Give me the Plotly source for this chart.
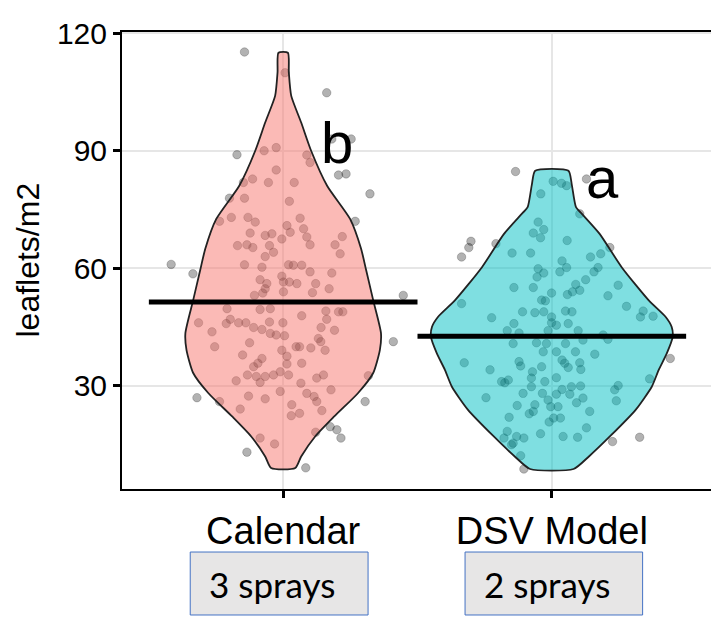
import plotly.graph_objects as go

# ---------------- data ----------------
categories = ["Calendar", "DSV Model"]
cat_pos = [1, 2]
means = [51.4, 42.7]
letters = ["b", "a"]
spray_labels = ["3 sprays", "2 sprays"]
y_ticks = [30, 60, 90, 120]

# jittered observations (horizontal jitter offset, value)
cal_jitter = [-0.144, 0.007, 0.162, -0.071, -0.026, -0.172, 0.088, 0.1, 0.181, 0.253,
              0.206, 0.234, 0.323, -0.026, -0.114, -0.148, -0.055, 0.041, -0.2, -0.144,
              0.023, -0.237, -0.193, -0.131, -0.104, 0.063, 0.268, -0.123, -0.067, -0.042,
              0.014, 0.026, 0.076, 0.088, 0.1, -0.005, 0.22, 0.193, -0.17, -0.135,
              -0.113, -0.051, -0.417, -0.336, -0.067, -0.036, 0.212, -0.144, -0.079, 0.02,
              0.038, 0.069, 0.1, 0.181, -0.086, -0.061, -0.005, 0.001, 0.023, 0.051,
              0.121, 0.171, -0.067, -0.107, -0.076, 0.001, 0.109, 0.447, -0.209, -0.086,
              -0.048, 0.069, 0.159, 0.206, 0.222, -0.315, -0.197, -0.212, -0.166, -0.139,
              -0.11, -0.079, -0.051, -0.001, -0.048, -0.026, 0.005, 0.162, 0.141, 0.191,
              -0.265, -0.255, -0.125, 0.41, -0.005, 0.048, 0.061, 0.103, 0.131, 0.14,
              0.156, -0.151, -0.079, -0.094, -0.11, 0.014, 0.014, 0.069, -0.133, -0.1,
              -0.086, -0.067, -0.036, -0.011, 0.02, -0.175, 0.125, 0.15, 0.317, 0.066,
              -0.011, 0.088, 0.115, 0.125, 0.178, -0.321, -0.237, -0.129, -0.067, 0.305,
              -0.16, 0.032, 0.03, 0.061, 0.144, 0.175, 0.2, 0.215, 0.121, -0.086,
              -0.032, -0.135, 0.084]
cal_values = [115.2, 109.9, 104.8, 90.0, 90.8, 89.0, 88.9, 87.0, 93.0, 93.0,
              83.8, 84.1, 79.0, 85.1, 82.8, 81.9, 81.9, 81.9, 77.9, 77.9,
              77.1, 72.0, 73.0, 73.0, 71.8, 72.8, 72.0, 69.0, 68.4, 68.8,
              70.9, 69.2, 70.1, 68.0, 66.0, 67.5, 68.1, 66.0, 65.8, 66.0,
              65.3, 65.8, 61.0, 58.6, 63.0, 64.1, 63.7, 60.9, 60.3, 60.9,
              60.8, 60.8, 59.1, 58.8, 57.1, 56.1, 58.0, 56.5, 56.5, 56.1,
              56.1, 54.8, 54.8, 53.1, 53.7, 54.0, 53.8, 53.1, 49.7, 49.5,
              49.7, 47.9, 49.1, 48.9, 48.9, 46.1, 47.0, 45.9, 46.1, 46.1,
              44.9, 44.4, 46.3, 46.1, 43.4, 43.0, 42.8, 47.0, 44.9, 44.2,
              43.8, 40.0, 41.0, 41.3, 39.1, 40.0, 40.0, 39.7, 42.1, 41.3,
              39.1, 37.9, 37.0, 35.8, 34.9, 37.6, 35.6, 35.8, 32.8, 32.4,
              30.9, 32.4, 32.8, 33.6, 32.8, 31.3, 32.0, 32.8, 32.6, 30.7,
              28.6, 28.1, 27.3, 26.0, 29.0, 27.0, 26.0, 27.4, 26.7, 26.0,
              24.1, 25.2, 22.4, 23.0, 23.7, 19.6, 18.8, 16.7, 18.2, 16.7,
              15.2, 13.1, 9.1]

dsv_jitter = [-0.135, 0.005, 0.036, 0.055, 0.129, -0.041, 0.104, -0.051, -0.03, -0.069,
              -0.042, -0.301, -0.309, -0.336, -0.208, 0.057, 0.216, -0.148, -0.079, 0.144,
              0.182, 0.038, -0.051, 0.055, -0.03, -0.055, 0.03, 0.157, 0.172, 0.126,
              0.247, 0.089, 0.104, 0.077, 0.058, -0.001, -0.141, -0.069, 0.209, -0.038,
              -0.024, -0.336, 0.278, 0.34, 0.377, 0.33, -0.109, -0.063, -0.03, 0.051,
              0.075, -0.001, -0.224, -0.141, -0.001, 0.017, 0.061, -0.166, -0.122, -0.014,
              0.098, 0.191, 0.209, -0.144, -0.057, -0.02, 0.051, 0.116, -0.032, 0.017,
              0.088, 0.16, -0.326, -0.122, -0.116, 0.038, 0.048, 0.104, -0.038, 0.061,
              0.108, 0.441, -0.23, -0.072, -0.076, 0.017, -0.026, -0.187, -0.162, -0.175,
              0.364, -0.076, 0.038, 0.073, 0.107, 0.247, 0.234, -0.107, -0.035, 0.017,
              0.067, -0.245, -0.014, 0.116, 0.092, 0.24, -0.129, -0.063, -0.004, 0.023,
              0.141, -0.084, -0.069, -0.159, 0.007, 0.032, -0.01, 0.129, -0.042, 0.042,
              0.096, -0.166, -0.178, -0.131, -0.104, -0.144, -0.15, 0.327, 0.226, -0.116,
              -0.104]
dsv_values = [84.7, 82.2, 81.7, 81.1, 82.8, 79.0, 73.9, 71.8, 69.9, 69.0,
              67.8, 66.9, 65.3, 62.9, 66.3, 67.1, 65.3, 63.9, 63.9, 62.9,
              63.7, 61.9, 59.9, 60.2, 58.8, 57.8, 59.1, 59.1, 60.2, 57.1,
              55.7, 55.9, 54.4, 54.0, 53.3, 53.7, 55.1, 55.1, 53.0, 51.9,
              51.7, 51.0, 50.3, 49.1, 47.8, 47.6, 48.9, 48.7, 48.9, 49.1,
              48.9, 47.6, 47.4, 45.9, 46.1, 45.5, 45.9, 44.1, 43.5, 44.1,
              44.1, 43.0, 41.9, 40.8, 41.0, 40.8, 40.8, 41.7, 38.7, 38.7,
              38.7, 38.1, 35.9, 36.2, 35.1, 36.6, 35.8, 35.9, 34.9, 34.7,
              34.2, 37.0, 34.1, 33.6, 32.0, 32.1, 31.1, 31.1, 31.5, 30.8,
              31.8, 29.8, 29.1, 29.8, 30.0, 30.1, 29.0, 28.1, 28.1, 27.9,
              27.9, 27.0, 26.4, 26.9, 25.7, 26.2, 25.0, 25.2, 24.7, 24.7,
              23.5, 22.9, 23.5, 22.0, 21.8, 21.8, 20.8, 19.3, 17.8, 17.1,
              16.9, 18.4, 16.7, 17.1, 16.7, 15.4, 15.0, 16.9, 15.8, 12.2,
              8.8]

# violin outlines (value, half width in category units)
cal_outline_y = [9.06, 12.0, 17.1, 22.2, 28.2, 33.3, 39.2, 43.5, 51.9, 59.5,
                 65.0, 72.6, 81.0, 90.0, 97.2, 104.0, 110.0, 115.0]
cal_outline_w = [0.045, 0.067, 0.119, 0.19, 0.279, 0.335, 0.36, 0.364, 0.335, 0.309,
                 0.29, 0.249, 0.164, 0.104, 0.067, 0.03, 0.021, 0.0175]
dsv_outline_y = [8.8, 12.0, 17.1, 23.9, 29.8, 34.1, 38.3, 42.5, 45.1, 47.6,
                 51.9, 60.3, 68.8, 73.9, 75.6, 81.5, 84.9]
dsv_outline_w = [0.081, 0.138, 0.216, 0.312, 0.372, 0.398, 0.428, 0.45, 0.446, 0.424,
                 0.36, 0.26, 0.178, 0.112, 0.09, 0.074, 0.062]

# ---------------- styling ----------------
fills = ["rgba(248,118,109,0.5)", "rgba(0,191,196,0.5)"]
FONT = "Liberation Sans, Arial, sans-serif"

fig = go.Figure()

# points first (violins drawn over them, as in the reference)
for pos, jit, vals in [(cat_pos[0], cal_jitter, cal_values), (cat_pos[1], dsv_jitter, dsv_values)]:
    fig.add_trace(go.Scatter(
        x=[pos + j for j in jit], y=vals, mode="markers",
        marker=dict(size=8.5, color="rgba(0,0,0,0.3)",
                    line=dict(width=1, color="rgba(0,0,0,0.2)")),
        hoverinfo="skip", showlegend=False))

# violin bodies
for pos, oy, ow, fc in [(cat_pos[0], cal_outline_y, cal_outline_w, fills[0]),
                        (cat_pos[1], dsv_outline_y, dsv_outline_w, fills[1])]:
    xs = [pos + w for w in ow] + [pos - w for w in reversed(ow)] + [pos + ow[0]]
    ys = list(oy) + list(reversed(oy)) + [oy[0]]
    fig.add_trace(go.Scatter(
        x=xs, y=ys, mode="lines", fill="toself", fillcolor=fc,
        line=dict(color="#222222", width=1.8, shape="spline", smoothing=0.6),
        hoverinfo="skip", showlegend=False))

# mean bars
for pos, m in zip(cat_pos, means):
    fig.add_trace(go.Scatter(
        x=[pos - 0.5, pos + 0.5], y=[m, m], mode="lines",
        line=dict(color="black", width=5), hoverinfo="skip", showlegend=False))

annotations = []
# significance letters
annotations.append(dict(x=1.2, y=92.1, xref="x", yref="y", text=letters[0], showarrow=False,
                        font=dict(family=FONT, size=58, color="black"),
                        xanchor="center", yanchor="middle"))
annotations.append(dict(x=2.19, y=83.2, xref="x", yref="y", text=letters[1], showarrow=False,
                        font=dict(family=FONT, size=58, color="black"),
                        xanchor="center", yanchor="middle"))
# y title
annotations.append(dict(x=-0.1607, y=0.5, xref="paper", yref="paper", text="leaflets/m2",
                        textangle=-90, showarrow=False,
                        font=dict(family=FONT, size=32, color="black"),
                        xanchor="center", yanchor="middle"))

shapes = []
box_x = [(0.654, 1.316), (1.677, 2.338)]
text_x = [0.7175, 1.74]
for (x0, x1), tx, lab in zip(box_x, text_x, spray_labels):
    shapes.append(dict(type="rect", xref="x", yref="paper", x0=x0, x1=x1,
                       y0=-0.2757, y1=-0.1379, fillcolor="#E7E6E6",
                       line=dict(color="#4472C4", width=1), layer="above"))
    annotations.append(dict(x=tx, y=-0.2068, xref="x", yref="paper", text=lab,
                            showarrow=False, font=dict(family="Lato, Carlito, sans-serif",
                                                       size=35, color="black"),
                            xanchor="left", yanchor="middle"))

axis_common = dict(showline=True, linecolor="black", linewidth=2, mirror=True,
                   ticks="outside", ticklen=7, tickwidth=3, tickcolor="black",
                   showgrid=True, gridcolor="#e6e6e6", gridwidth=1.5, zeroline=False,
                   automargin=False)

# page body has an 8px default margin, so the figure is sized/offset to compensate
fig.update_layout(
    width=711, height=613,
    margin=dict(l=114, r=6, t=24, b=132),
    plot_bgcolor="white", paper_bgcolor="white",
    font=dict(family=FONT, color="black"),
    xaxis=dict(range=[0.4, 2.6], tickvals=cat_pos, ticktext=categories,
               tickfont=dict(size=38, color="black"), ticklabelstandoff=0, **axis_common),
    yaxis=dict(range=[3.7, 120.3], tickvals=y_ticks,
               tickfont=dict(size=30, color="black"), **axis_common),
    shapes=shapes, annotations=annotations, showlegend=False,
)

fig.write_html("out.html")
